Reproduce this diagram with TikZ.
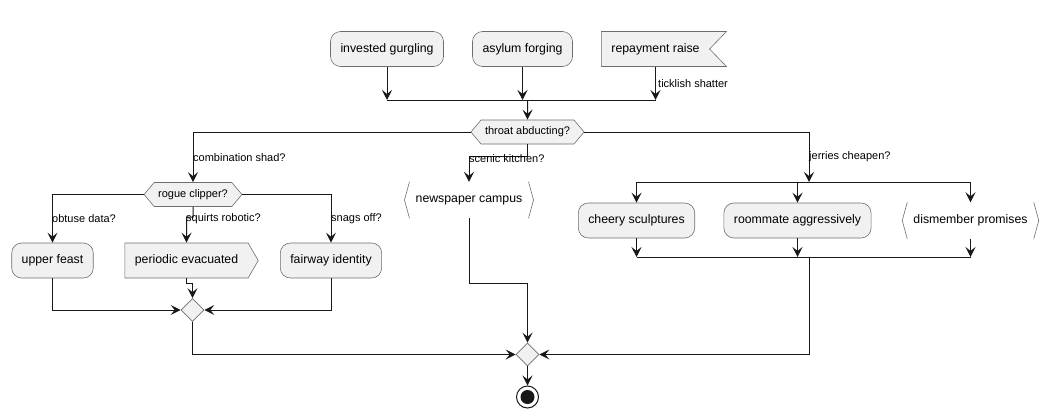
\documentclass[tikz,border=0pt]{standalone}
\usepackage{fontspec}
\setmainfont{Liberation Sans}
\usetikzlibrary{arrows.meta, shapes.geometric, shapes.symbols}
\definecolor{actfill}{HTML}{F1F1F1}
\definecolor{actline}{HTML}{6E6E6E}
\definecolor{flowline}{HTML}{181818}

\begin{document}
\begin{tikzpicture}[x=1pt, y=-1pt,
    shp/.style={draw=actline, fill=actfill, line width=0.6pt, font=\fontsize{12.3}{14}\selectfont},
    box/.style={shp, rectangle, rounded corners=10pt, minimum height=35pt, inner xsep=10pt},
    flagbox/.style={shp, signal, signal to=nowhere, signal from=east, signal pointer angle=92,
      minimum height=35pt, inner xsep=10pt},
    sendbox/.style={shp, signal, signal to=east, signal from=nowhere, signal pointer angle=120,
      minimum height=35pt, inner xsep=10pt},
    brkbox/.style={rectangle, minimum height=36pt, inner xsep=11pt, font=\fontsize{12.3}{14}\selectfont},
    brk/.style={draw=actline, line width=0.6pt},
    hexa/.style={shp, signal, signal to=west and east, signal from=nowhere, signal pointer angle=100,
      minimum height=24pt, inner xsep=4pt, font=\fontsize{11}{13}\selectfont},
    merge/.style={shp, diamond, minimum size=23pt, inner sep=0pt},
    stopnode/.style={circle, draw=flowline, line width=1pt, fill=white, minimum size=22pt, inner sep=0pt,
      path picture={\fill[flowline] (path picture bounding box.center) circle (7pt);}},
    arrow/.style={-{Stealth[length=10pt, width=10pt, inset=4pt]}, line width=1pt, flowline},
    wire/.style={line width=1pt, flowline},
    lbl/.style={anchor=west, inner sep=1pt, font=\fontsize{11}{13}\selectfont},
  ]
    \useasboundingbox (0,0) rectangle (1051,418);

    \node[box]     (inv) at (387,49)      {invested gurgling};
    \node[box]     (asy) at (522.5,49)    {asylum forging};
    \node[flagbox] (rep) at (655.5,49)    {repayment raise};
    \node[hexa]    (thr) at (527.5,132)   {throat abducting?};
    \node[hexa]    (rog) at (193,194.5)   {rogue clipper?};
    \node[brkbox]  (np)  at (469,200)     {newspaper campus};
    \node[box]     (upf) at (52.5,260.5)  {upper feast};
    \node[sendbox] (per) at (186.5,260.5) {periodic evacuated};
    \node[box]     (fwy) at (331,260.5)   {fairway identity};
    \node[box]     (chr) at (636.5,220.5) {cheery sculptures};
    \node[box]     (rma) at (797.5,220.5) {roommate aggressively};
    \node[brkbox]  (dmp) at (970.5,220.5) {dismember promises};
    \node[merge]   (lmg) at (192.5,310)   {};
    \node[merge]   (fin) at (527.5,354.5) {};
    \node[stopnode] (stop) at (527.5,397) {};

    % brackets of the plain actions
    \draw[brk] ([xshift=5pt]np.north west) -- (np.west) -- ([xshift=5pt]np.south west);
    \draw[brk] ([xshift=-5pt]np.north east) -- (np.east) -- ([xshift=-5pt]np.south east);
    \draw[brk] ([xshift=5pt]dmp.north west) -- (dmp.west) -- ([xshift=5pt]dmp.south west);
    \draw[brk] ([xshift=-5pt]dmp.north east) -- (dmp.east) -- ([xshift=-5pt]dmp.south east);

    \coordinate (tbarL) at (387,100);
    \coordinate (tbarR) at (655.5,100);
    \coordinate (tbarM) at (527.5,100);
    \coordinate (kj)    at (469,156);
    \coordinate (npj)   at (527.5,283);
    \coordinate (rj)    at (186.5,217);
    \coordinate (pj)    at (192.5,283);
    \coordinate (rbarL) at (636.5,182);
    \coordinate (rbarR) at (970.5,182);
    \coordinate (rbarM) at (809,182);
    \coordinate (bbarL) at (636.5,257);
    \coordinate (bbarR) at (970.5,257);
    \coordinate (bbarM) at (809,257);

    % top join
    \draw[wire] (tbarL) -- (tbarR);
    \draw[arrow] (inv) -- (inv |- tbarL);
    \draw[arrow] (asy) -- (asy |- tbarL);
    \draw[arrow] (rep) -- (rep |- tbarL);
    \draw[arrow] (tbarM) -- (thr);

    % branches
    \draw[arrow] (thr.west) -| (rog);
    \draw[arrow] (thr.south) |- (kj) -- (np);
    \draw[arrow] (thr.east) -| (rbarM);

    \draw[arrow] (rog.west) -| (upf);
    \draw[arrow] (rog.south) |- (rj) -- (per);
    \draw[arrow] (rog.east) -| (fwy);
    \draw[arrow] (upf) |- (lmg);
    \draw[arrow] (per) |- (pj) -- (lmg);
    \draw[arrow] (fwy) |- (lmg);

    \draw[wire] (rbarL) -- (rbarR);
    \draw[arrow] (chr |- rbarL) -- (chr);
    \draw[arrow] (rma |- rbarL) -- (rma);
    \draw[arrow] (dmp |- rbarL) -- (dmp);
    \draw[wire] (bbarL) -- (bbarR);
    \draw[arrow] (chr) -- (chr |- bbarL);
    \draw[arrow] (rma) -- (rma |- bbarL);
    \draw[arrow] (dmp) -- (dmp |- bbarL);

    % final merge
    \draw[arrow] (lmg) |- (fin);
    \draw[arrow] (np) |- (npj) -- (fin);
    \draw[arrow] (bbarM) |- (fin);
    \draw[arrow] (fin) -- (stop);

    \node[lbl] (ltk) at (657,84)  {ticklish shatter};
    \node[lbl] (lcs) at (192,158) {combination shad?};
    \node[lbl] (lsk) at (468,159) {scenic kitchen?};
    \node[lbl] (ljc) at (808,157) {jerries cheapen?};
    \node[lbl] (lod) at (51,219)  {obtuse data?};
    \node[lbl] (lsr) at (185,219) {squirts robotic?};
    \node[lbl] (lso) at (330,219) {snags off?};
  \end{tikzpicture}
\end{document}
